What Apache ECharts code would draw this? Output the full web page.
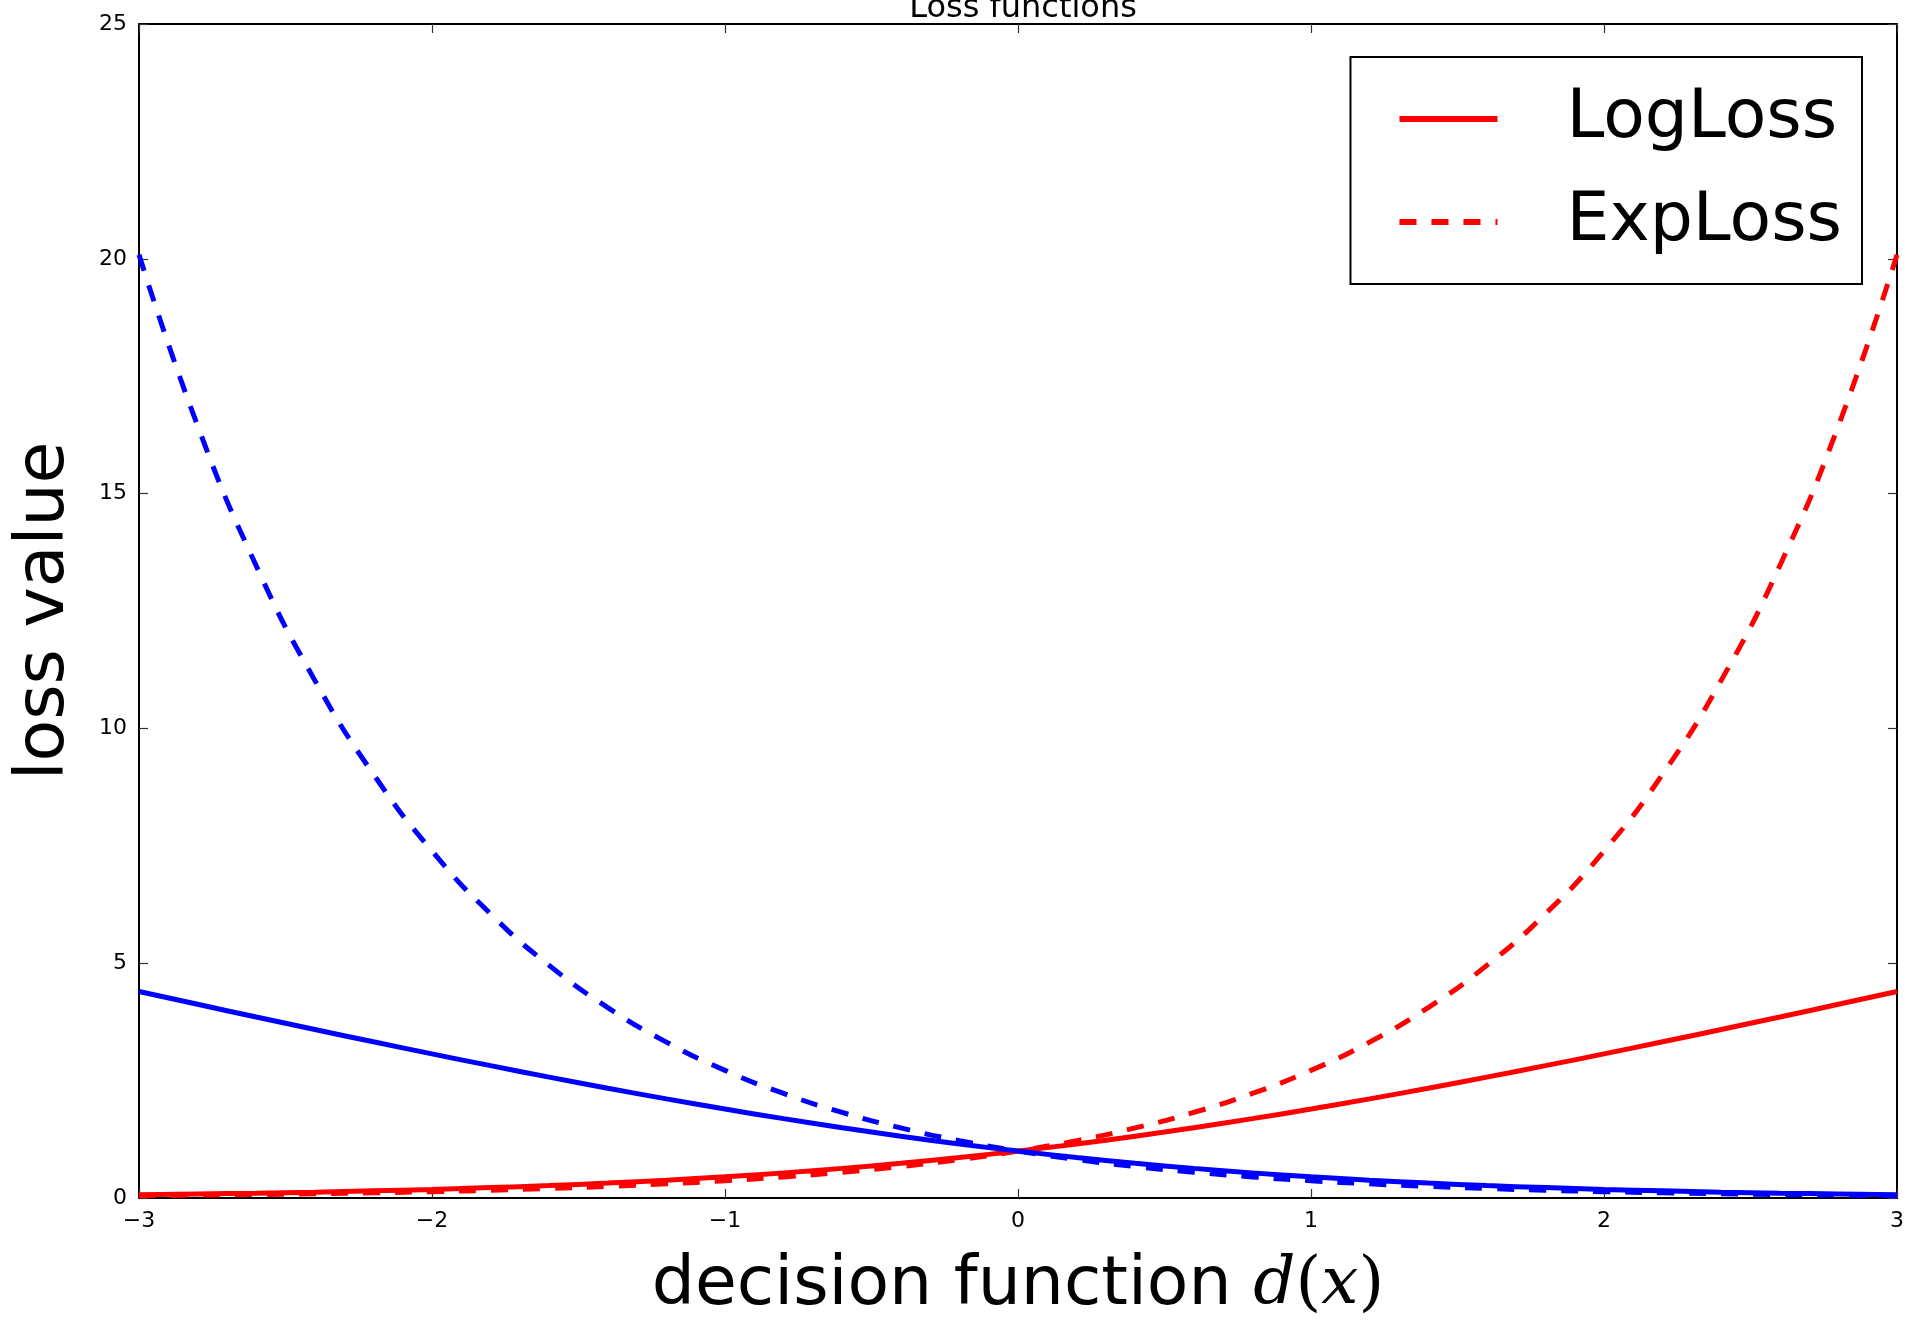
<!DOCTYPE html>
<html>
<head>
<meta charset="utf-8">
<script src="https://cdn.jsdelivr.net/npm/echarts@6/dist/echarts.min.js"></script>
<style>
html,body{margin:0;padding:0;background:#fff;}
#chart{width:1912px;height:1326px;}
</style>
</head>
<body>
<div id="chart"></div>
<script>
var xs = [-3.0,-2.8,-2.6,-2.4,-2.2,-2.0,-1.8,-1.6,-1.4,-1.2,-1.0,-0.8,-0.6,-0.4,-0.2,0,0.2,0.4,0.6,0.8,1.0,1.2,1.4,1.6,1.8,2.0,2.2,2.4,2.6,2.8,3.0];
var logLossRed = [0.070,0.085,0.103,0.125,0.152,0.183,0.221,0.265,0.318,0.380,0.452,0.535,0.631,0.740,0.863,1.000,1.151,1.317,1.497,1.690,1.895,2.111,2.338,2.574,2.818,3.069,3.326,3.588,3.854,4.125,4.398];
var expLossRed = [0.050,0.061,0.074,0.091,0.111,0.135,0.165,0.202,0.247,0.301,0.368,0.449,0.549,0.670,0.819,1.000,1.221,1.492,1.822,2.226,2.718,3.320,4.055,4.953,6.050,7.389,9.025,11.023,13.464,16.445,20.086];
var logLossBlue = [4.398,4.125,3.854,3.588,3.326,3.069,2.818,2.574,2.338,2.111,1.895,1.690,1.497,1.317,1.151,1.000,0.863,0.740,0.631,0.535,0.452,0.380,0.318,0.265,0.221,0.183,0.152,0.125,0.103,0.085,0.070];
var expLossBlue = [20.086,16.445,13.464,11.023,9.025,7.389,6.050,4.953,4.055,3.320,2.718,2.226,1.822,1.492,1.221,1.000,0.819,0.670,0.549,0.449,0.368,0.301,0.247,0.202,0.165,0.135,0.111,0.091,0.074,0.061,0.050];
var xTickLabels = ['\u22123','\u22122','\u22121','0','1','2','3'];
var yTickLabels = ['0','5','10','15','20','25'];
var seriesNames = ['LogLoss','ExpLoss'];

function pairs(ys){ return xs.map(function(x,i){ return [x, ys[i]]; }); }

var chart = echarts.init(document.getElementById('chart'), null, {renderer:'canvas'});
var FONT = 'DejaVu Sans';
var DASH = [17,15];
var tickStyle = {show:true, inside:true, length:9, lineStyle:{color:'#333', width:1.2}};
var axisLine = {show:true, onZero:false, lineStyle:{color:'#000', width:2}};

function lineSeries(name, ys, color, dashed){
  return {
    type:'line', name:name, data:pairs(ys), smooth:true,
    symbol:'circle', symbolSize:0, showSymbol:false,
    lineStyle:{color:color, width:5, type: dashed ? DASH : 'solid'},
    itemStyle:{color:color},
    emphasis:{disabled:true}, animation:false, z: 2
  };
}

chart.setOption({
  animation:false,
  backgroundColor:'#fff',
  title:{
    text:'Loss functions', left:1018, top:-12, textAlign:'center',
    textStyle:{fontFamily:FONT, fontSize:32, fontWeight:'normal', color:'#000'}
  },
  legend:{
    data:seriesNames, orient:'vertical', right:50, top:57,
    backgroundColor:'#fff', borderColor:'#000', borderWidth:2,
    padding:[22,20,22,46], itemGap:23, itemWidth:98, itemHeight:20,
    itemStyle:{opacity:0, borderWidth:0},
    lineStyle:{width:6},
    textStyle:{fontFamily:FONT, fontSize:68, color:'#000', lineHeight:80, padding:[0,0,0,64]},
    selectedMode:false
  },
  grid:{left:139, right:15, top:24, bottom:128, containLabel:false},
  xAxis:[{
    type:'value', min:-3, max:3, interval:1,
    axisLine:axisLine, axisTick:tickStyle, splitLine:{show:false},
    axisLabel:{fontFamily:FONT, fontSize:22, color:'#000', margin:12,
      formatter:function(v){ return xTickLabels[Math.round(v+3)]; }},
    name:'{a|decision function }{b|d}{c|(}{b|x}{c|)}', nameLocation:'middle', nameGap:54,
    nameTextStyle:{rich:{
      a:{fontFamily:FONT, fontSize:68, color:'#000'},
      b:{fontFamily:'DejaVu Serif', fontStyle:'italic', fontSize:66, color:'#000'},
      c:{fontFamily:'DejaVu Serif', fontSize:66, color:'#000'}
    }}
  },{
    type:'value', min:-3, max:3, interval:1, position:'top',
    axisLine:axisLine, axisTick:tickStyle, axisLabel:{show:false}, splitLine:{show:false}
  }],
  yAxis:[{
    type:'value', min:0, max:25, interval:5,
    axisLine:axisLine, axisTick:tickStyle, splitLine:{show:false},
    axisLabel:{fontFamily:FONT, fontSize:22, color:'#000', margin:12,
      formatter:function(v){ return yTickLabels[Math.round(v/5)]; }},
    name:'loss value', nameLocation:'middle', nameRotate:90, nameGap:60,
    nameTextStyle:{fontFamily:FONT, fontSize:68, color:'#000'}
  },{
    type:'value', min:0, max:25, interval:5, position:'right',
    axisLine:axisLine, axisTick:tickStyle, axisLabel:{show:false}, splitLine:{show:false}
  }],
  series:[
    lineSeries('LogLoss', logLossRed, '#ff0000', false),
    lineSeries('ExpLoss', expLossRed, '#ff0000', true),
    lineSeries('LogLoss', logLossBlue, '#0000ff', false),
    lineSeries('ExpLoss', expLossBlue, '#0000ff', true)
  ]
});
</script>
</body>
</html>
